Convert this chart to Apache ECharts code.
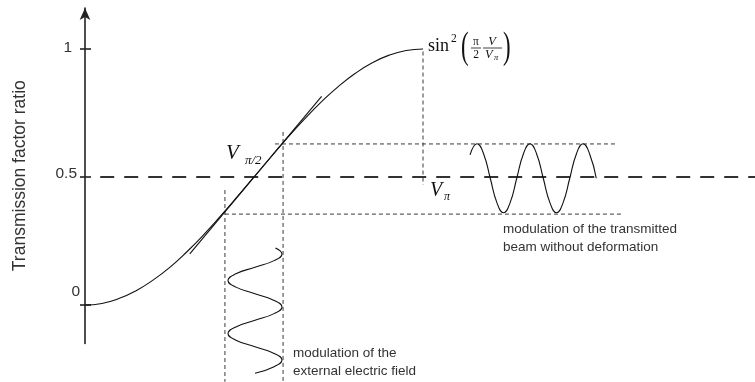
<!DOCTYPE html>
<html>
<head>
<meta charset="utf-8">
<script src="https://cdn.jsdelivr.net/npm/echarts@6/dist/echarts.min.js"></script>
<style>
  html, body { margin: 0; padding: 0; background: #fff; }
  #chart { width: 755px; height: 382px; }
</style>
</head>
<body>
<div id="chart"></div>
<script>
// Transfer curve T = sin^2(pi/2 * V/Vpi); x is V/Vpi, y is the transmission ratio
const curveV = [0, 0.05, 0.10, 0.15, 0.20, 0.25, 0.30, 0.35, 0.40, 0.45, 0.50,
                0.55, 0.60, 0.65, 0.70, 0.75, 0.80, 0.85, 0.90, 0.95, 1.00];
const curveT = [0, 0.006, 0.025, 0.055, 0.096, 0.146, 0.206, 0.273, 0.346, 0.422, 0.500,
                0.578, 0.655, 0.727, 0.794, 0.854, 0.905, 0.946, 0.976, 0.994, 1.000];

// Tangent at the V_pi/2 operating point
const tangentV = [0.31, 0.70];
const tangentT = [0.20, 0.815];

// Half-level reference line
const halfV = [0.045, 1.985];
const halfT = [0.5, 0.5];

// Guide lines (dotted)
const guideLowerV = [0.414, 1.589];
const guideLowerT = [0.355, 0.355];
const guideUpperV = [0.562, 1.577];
const guideUpperT = [0.629, 0.629];
const guideLeftV = [0.414, 0.414];
const guideLeftT = [0.449, -0.30];
const guideRightV = [0.586, 0.586];
const guideRightT = [0.676, -0.30];
const guideVpiV = [1.0, 1.0];
const guideVpiT = [0.99, 0.469];

// Transmitted beam modulation (oscillates between the two guide levels)
const beamV = [1.1391, 1.1598, 1.1794, 1.1990, 1.2186, 1.2382, 1.2578, 1.2774, 1.2970, 1.3166,
               1.3362, 1.3558, 1.3754, 1.3950, 1.4146, 1.4342, 1.4538, 1.4734, 1.4930, 1.5126];
const beamT = [0.586, 0.630, 0.590, 0.495, 0.400, 0.360, 0.400, 0.495, 0.590, 0.630,
               0.590, 0.495, 0.400, 0.360, 0.400, 0.495, 0.590, 0.630, 0.590, 0.495];

// Applied field modulation (runs downward below the operating point)
const fieldV = [0.5633, 0.5828, 0.5595, 0.5030, 0.4465, 0.4231, 0.4465, 0.5030, 0.5595, 0.5828,
                0.5595, 0.5030, 0.4465, 0.4231, 0.4465, 0.5030, 0.5595, 0.5828, 0.5595, 0.5030];
const fieldT = [0.2227, 0.1992, 0.1733, 0.1475, 0.1216, 0.0957, 0.0698, 0.0439, 0.0180, -0.0078,
                -0.0337, -0.0596, -0.0855, -0.1114, -0.1373, -0.1631, -0.1890, -0.2149, -0.2408, -0.2667];

// Axis ticks and labels
const yTicks = [0, 0.5, 1];
const yTickLabels = ['0', '0.5', '1'];
const yAxisName = 'Transmission factor ratio';

const zip = (xs, ys) => xs.map((x, i) => [x, ys[i]]);

function lineSeries(xs, ys, style, smooth) {
  return {
    type: 'line',
    data: zip(xs, ys),
    showSymbol: false,
    symbol: 'none',
    smooth: !!smooth,
    clip: false,
    silent: true,
    animation: false,
    lineStyle: style
  };
}

const dotted = { color: '#3a3a3a', width: 1, type: [4, 3] };
const solid = { color: '#111', width: 1.1 };

const chart = echarts.init(document.getElementById('chart'), null, { renderer: 'canvas' });

const serif = '"Liberation Serif", "DejaVu Serif", serif';
const sans = '"Liberation Sans", Arial, sans-serif';

function t(x, y, text, size, opts) {
  return Object.assign({
    type: 'text', x: x, y: y, silent: true,
    style: Object.assign({
      text: text, fill: '#111', font: size + 'px ' + serif,
      textAlign: 'left', textVerticalAlign: 'middle'
    }, (opts && opts.style) || {})
  }, opts && opts.el ? opts.el : {});
}
function bar(x1, x2, y) {
  return { type: 'line', silent: true, shape: { x1: x1, y1: y, x2: x2, y2: y },
           style: { stroke: '#111', lineWidth: 0.8 } };
}

// V/Vpi spans 338 px per unit starting at the vertical axis
const xMax = 1.99;
const gridLeft = 85;
const gridRight = 755 - gridLeft - 338 * xMax;

const option = {
  backgroundColor: '#fff',
  animation: false,
  grid: { left: gridLeft, right: gridRight, top: 8, bottom: 38.6, containLabel: false, outerBoundsMode: 'none' },
  xAxis: { type: 'value', min: 0, max: xMax, show: false },
  yAxis: [
    {
      type: 'value', min: -0.15, max: 1.16, position: 'left',
      axisLine: { show: true, symbol: ['none', 'arrow'], symbolSize: [8, 12],
                  lineStyle: { color: '#222', width: 1.6 } },
      axisTick: { show: true, customValues: yTicks, length: 5, inside: false,
                  lineStyle: { color: '#222', width: 1.6 } },
      axisLabel: {
        customValues: yTicks, margin: 5, color: '#333',
        fontFamily: sans, fontSize: 15.5,
        formatter: function (v) {
          const i = yTicks.indexOf(v);
          const key = ['z', 'h', 'o'][i];
          return '{' + key + '|' + yTickLabels[i] + '}';
        },
        rich: {
          z: { fontFamily: sans, fontSize: 15.5, color: '#333', padding: [0, 0, 26, 0] },
          h: { fontFamily: sans, fontSize: 15.5, color: '#333', padding: [0, 3, 6, 0] },
          o: { fontFamily: sans, fontSize: 15.5, color: '#333', padding: [0, 8, 2, 0] }
        }
      },
      splitLine: { show: false },
      name: yAxisName, nameLocation: 'middle', nameGap: 56, nameRotate: 90,
      nameTextStyle: { fontFamily: sans, fontSize: 17.5, color: '#333' }
    },
    {
      type: 'value', min: -0.15, max: 1.16, position: 'left',
      axisLine: { show: false },
      axisTick: { show: true, customValues: yTicks, length: 6, inside: true,
                  lineStyle: { color: '#222', width: 1.6 } },
      axisLabel: { show: false },
      splitLine: { show: false }
    }
  ],
  series: [
    lineSeries(halfV, halfT, { color: '#333', width: 2, type: [14, 10] }),
    lineSeries(guideLowerV, guideLowerT, dotted),
    lineSeries(guideUpperV, guideUpperT, dotted),
    lineSeries(guideLeftV, guideLeftT, dotted),
    lineSeries(guideRightV, guideRightT, dotted),
    lineSeries(guideVpiV, guideVpiT, dotted),
    lineSeries(curveV, curveT, solid, true),
    lineSeries(tangentV, tangentT, solid),
    lineSeries(beamV, beamT, solid, true),
    lineSeries(fieldV, fieldT, solid, true)
  ],
  graphic: [
    // sin^2( pi/2 * V/Vpi )
    t(428, 46, 'sin', 18),
    t(451, 39, '2', 11.5),
    t(461, 48, '(', 38, { el: { scaleX: 0.6, originX: 0, originY: 0 } }),
    t(476, 42, 'π', 11.5, { style: { textAlign: 'center' } }),
    bar(471, 481, 48),
    t(476, 55, '2', 11.5, { style: { textAlign: 'center' } }),
    t(492, 42, 'V', 12.5, { style: { textAlign: 'center', font: 'italic 12.5px ' + serif } }),
    bar(483, 502, 48),
    t(485, 55, 'V', 12.5, { style: { font: 'italic 12.5px ' + serif } }),
    t(494, 58, 'π', 8.5, { style: { font: 'italic 8.5px ' + serif } }),
    t(503, 48, ')', 38, { el: { scaleX: 0.6, originX: 0, originY: 0 } }),

    // V_{pi/2}
    t(226, 153, 'V', 21, { style: { font: 'italic 21px ' + serif } }),
    t(245, 161, 'π/2', 13, { style: { font: 'italic 13px ' + serif } }),

    // V_pi
    t(430, 191, 'V', 20, { style: { font: 'italic 20px ' + serif } }),
    t(444, 197, 'π', 12, { style: { font: 'italic 12px ' + serif } }),

    // descriptions
    { type: 'text', x: 503, y: 220, silent: true,
      style: { text: 'modulation of the transmitted\nbeam without deformation',
               font: '13.5px ' + sans, fill: '#333', lineHeight: 18,
               textAlign: 'left', textVerticalAlign: 'top' } },
    { type: 'text', x: 293, y: 344, silent: true,
      style: { text: 'modulation of the\nexternal electric field',
               font: '13.5px ' + sans, fill: '#333', lineHeight: 18.5,
               textAlign: 'left', textVerticalAlign: 'top' } }
  ]
};

chart.setOption(option);
</script>
</body>
</html>
